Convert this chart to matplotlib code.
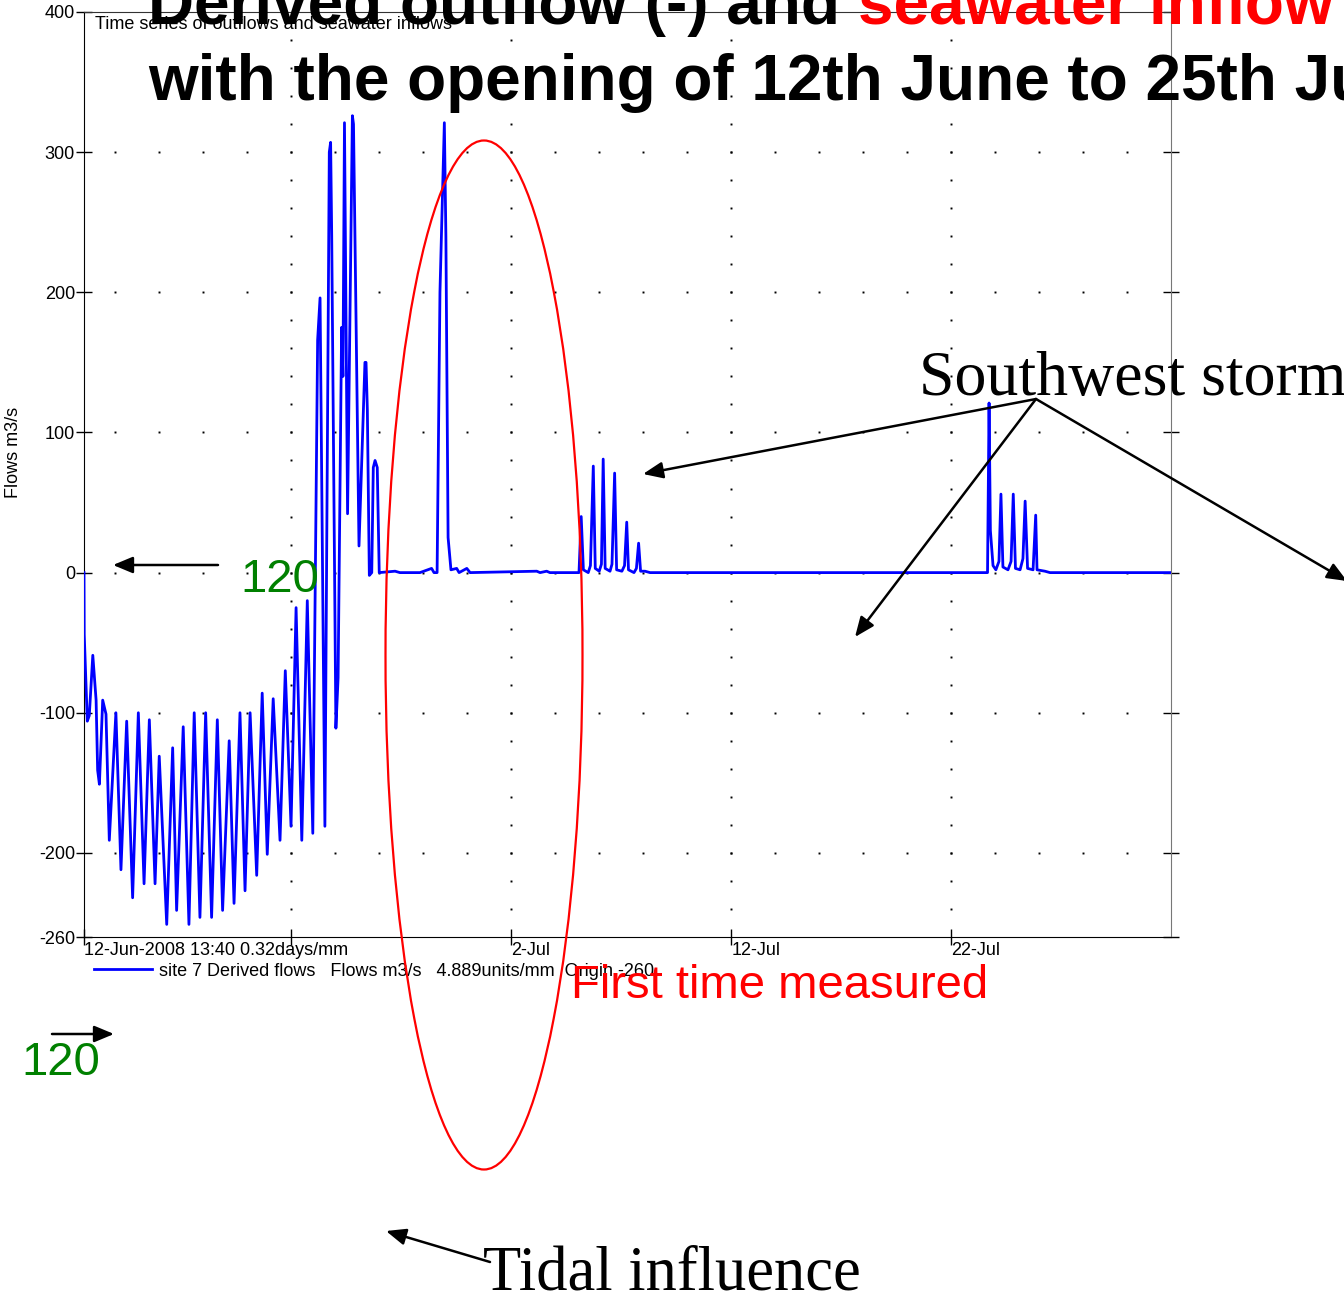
import datetime as dt

import matplotlib
matplotlib.use("Agg")
import matplotlib.pyplot as plt
import matplotlib.dates as mdates
import numpy as np
from matplotlib.patches import Ellipse

# series start (first point of the record)
start = dt.datetime(2008, 6, 12, 13, 40)

# time since start in days, and derived flow in m3/s
days = [
    0.00, 0.01, 0.15, 0.24, 0.40, 0.55, 0.62, 0.70, 0.85, 1.00,
    1.15, 1.45, 1.68, 1.94, 2.21, 2.47, 2.73, 2.97, 3.23, 3.42,
    3.76, 4.03, 4.21, 4.51, 4.77, 5.01, 5.27, 5.53, 5.80, 6.06,
    6.30, 6.60, 6.82, 7.09, 7.32, 7.55, 7.85, 8.10, 8.33, 8.60,
    8.91, 9.15, 9.41, 9.64, 9.90, 10.15, 10.40, 10.62, 10.73, 10.95,
    11.15, 11.21, 11.26, 11.45, 11.55, 11.71, 11.77, 11.84, 11.98, 12.20,
    12.25, 12.50, 12.77, 12.82, 12.88, 12.97, 13.08, 13.15, 13.23, 13.33,
    13.42, 14.14, 14.36, 15.27, 15.80, 15.91, 16.05, 16.18, 16.38, 16.45,
    16.55, 16.68, 16.94, 17.05, 17.40, 17.55, 20.58, 20.73, 21.03, 21.18,
    22.50, 22.60, 22.70, 22.92, 23.02, 23.15, 23.24, 23.42, 23.52, 23.60,
    23.69, 23.91, 24.00, 24.12, 24.21, 24.45, 24.57, 24.67, 24.75, 25.00,
    25.11, 25.21, 25.30, 25.50, 25.73, 41.07, 41.14, 41.20, 41.32, 41.45,
    41.59, 41.68, 41.77, 42.00, 42.14, 42.24, 42.34, 42.55, 42.68, 42.78,
    42.89, 43.14, 43.26, 43.32, 43.68, 43.91, 49.41,
]
flows = [
    0, -44, -106, -102, -59, -91, -141, -151, -91, -101,
    -191, -100, -212, -106, -232, -100, -222, -105, -222, -131,
    -251, -125, -241, -110, -251, -100, -246, -100, -246, -105,
    -241, -120, -236, -100, -227, -100, -216, -86, -201, -90,
    -191, -70, -181, -25, -191, -20, -186, 166, 196, -181,
    300, 307, 240, -111, -75, 175, 140, 321, 42, 326,
    320, 19, 150, 150, 116, -2, 0, 75, 80, 75,
    0, 1, 0, 0, 3, 0, 0, 200, 321, 240,
    25, 2, 3, 0, 3, 0, 1, 0, 1, 0,
    0, 40, 2, 0, 5, 76, 3, 1, 6, 81,
    3, 1, 6, 71, 2, 1, 5, 36, 2, 0,
    3, 21, 1, 1, 0, 0, 121, 30, 5, 2,
    8, 56, 4, 2, 8, 56, 3, 2, 10, 51,
    3, 2, 41, 2, 1, 0, 0,
]

y_ticks = [-260, -200, -100, 0, 100, 200, 300, 400]
x_tick_dates = [start, dt.datetime(2008, 6, 22), dt.datetime(2008, 7, 2),
                dt.datetime(2008, 7, 12), dt.datetime(2008, 7, 22)]
x_tick_labels = ["12-Jun-2008 13:40 0.32days/mm", "", "2-Jul", "12-Jul", "22-Jul"]
legend_label = "site 7 Derived flows   Flows m3/s   4.889units/mm  Origin -260"

W, H = 1344, 1298


def px(x, y):
    # top-left pixel coords -> figure fraction
    return x / W, 1 - y / H


def arrow(fig, tail, tip):
    fig.axes[0].annotate(
        "", xy=(tip[0], H - tip[1]), xytext=(tail[0], H - tail[1]),
        xycoords="figure pixels", textcoords="figure pixels",
        arrowprops=dict(arrowstyle="-|>,head_length=0.6,head_width=0.25",
                        color="black", lw=1.8, mutation_scale=20,
                        shrinkA=0, shrinkB=0),
        annotation_clip=False)


def main():
    plt.rcParams["font.family"] = ["Liberation Sans", "DejaVu Sans"]
    plt.rcParams["axes.unicode_minus"] = False
    fig = plt.figure(figsize=(W / 100, H / 100), dpi=100)
    ax = fig.add_axes([84 / W, 1 - 937 / H, (1171 - 84) / W, (937 - 12) / H])

    t0 = mdates.date2num(start)
    x = t0 + np.array(days)
    line, = ax.plot(x, flows, color="#0000ff", lw=2.0, zorder=3)

    ax.set_xlim(t0, t0 + 49.41)
    ax.set_ylim(-260, 400)

    # dotted grid: rows every 100 with a dot each 2 days, columns at date ticks every 20
    dot_x = mdates.date2num(dt.datetime(2008, 6, 14)) + np.arange(0, 47, 2)
    for yv in [-200, -100, 0, 100, 200, 300]:
        ax.plot(dot_x, np.full(len(dot_x), yv), ls="none", marker="s",
                ms=1.4, mew=0, color="black", zorder=1)
    dot_y = np.arange(-240, 381, 20)
    for d in x_tick_dates[1:]:
        xv = mdates.date2num(d)
        ax.plot(np.full(len(dot_y), xv), dot_y, ls="none", marker="s",
                ms=1.4, mew=0, color="black", zorder=1)

    ax.set_yticks(y_ticks)
    ax.set_xticks([mdates.date2num(d) for d in x_tick_dates])
    ax.set_xticklabels(x_tick_labels, ha="left")
    ax.tick_params(axis="both", direction="inout", length=11.5, width=1,
                   labelsize=13)
    ax.tick_params(axis="y", right=True, pad=0.7)
    ax.tick_params(axis="x", pad=-2.3)
    ax.spines["right"].set_color("#777777")
    ax.spines["top"].set_color("#333333")

    ax.legend([line], [legend_label], loc="center left",
              bbox_to_anchor=px(94, 971), bbox_transform=fig.transFigure,
              frameon=False, borderpad=0, borderaxespad=0, fontsize=13,
              handlelength=3.2, handletextpad=0.4)

    fig.text(*px(14, 452), "Flows m3/s", rotation=90, ha="center",
             va="center", fontsize=13)
    fig.text(*px(95, 29), "Time series of outflows and seawater inflows",
             fontsize=13, va="baseline")

    # big title, partly red
    t1 = fig.text(*px(148, 24), "Derived outflow (-) and", fontsize=46,
                  fontweight="bold", va="baseline")
    fig.canvas.draw()
    bb = t1.get_window_extent()
    fig.text((bb.x1 + 18) / W, 1 - 24 / H, "seawater inflow (+)",
             fontsize=46, fontweight="bold", color="red", va="baseline")
    fig.text(*px(148, 100), "with the opening of 12th June to 25th July",
             fontsize=46, fontweight="bold", va="baseline")

    # annotations
    fig.text(*px(240, 592), "120", color="green", fontsize=34, va="baseline")
    fig.text(*px(21, 1075), "120", color="green", fontsize=34, va="baseline")
    arrow(fig, (218, 565), (113, 565))
    arrow(fig, (52, 1034), (114, 1034))

    fig.text(*px(571, 998), "First time measured", color="red", fontsize=34,
             va="baseline")

    fig.add_artist(Ellipse(px(484, 655), 197 / W, 1029 / H,
                           transform=fig.transFigure, fill=False,
                           ec="red", lw=1.6, zorder=5))

    fig.text(*px(919, 395), "Southwest storm", family="Liberation Serif",
             fontsize=46, va="baseline")
    arrow(fig, (1036, 399), (643, 474))
    arrow(fig, (1036, 399), (855, 637))
    arrow(fig, (1036, 399), (1347, 581))

    fig.text(*px(483, 1290), "Tidal influence", family="Liberation Serif",
             fontsize=45, va="baseline")
    arrow(fig, (490, 1262), (386, 1231))

    fig.savefig("out.png", dpi=100)


if __name__ == "__main__":
    main()
